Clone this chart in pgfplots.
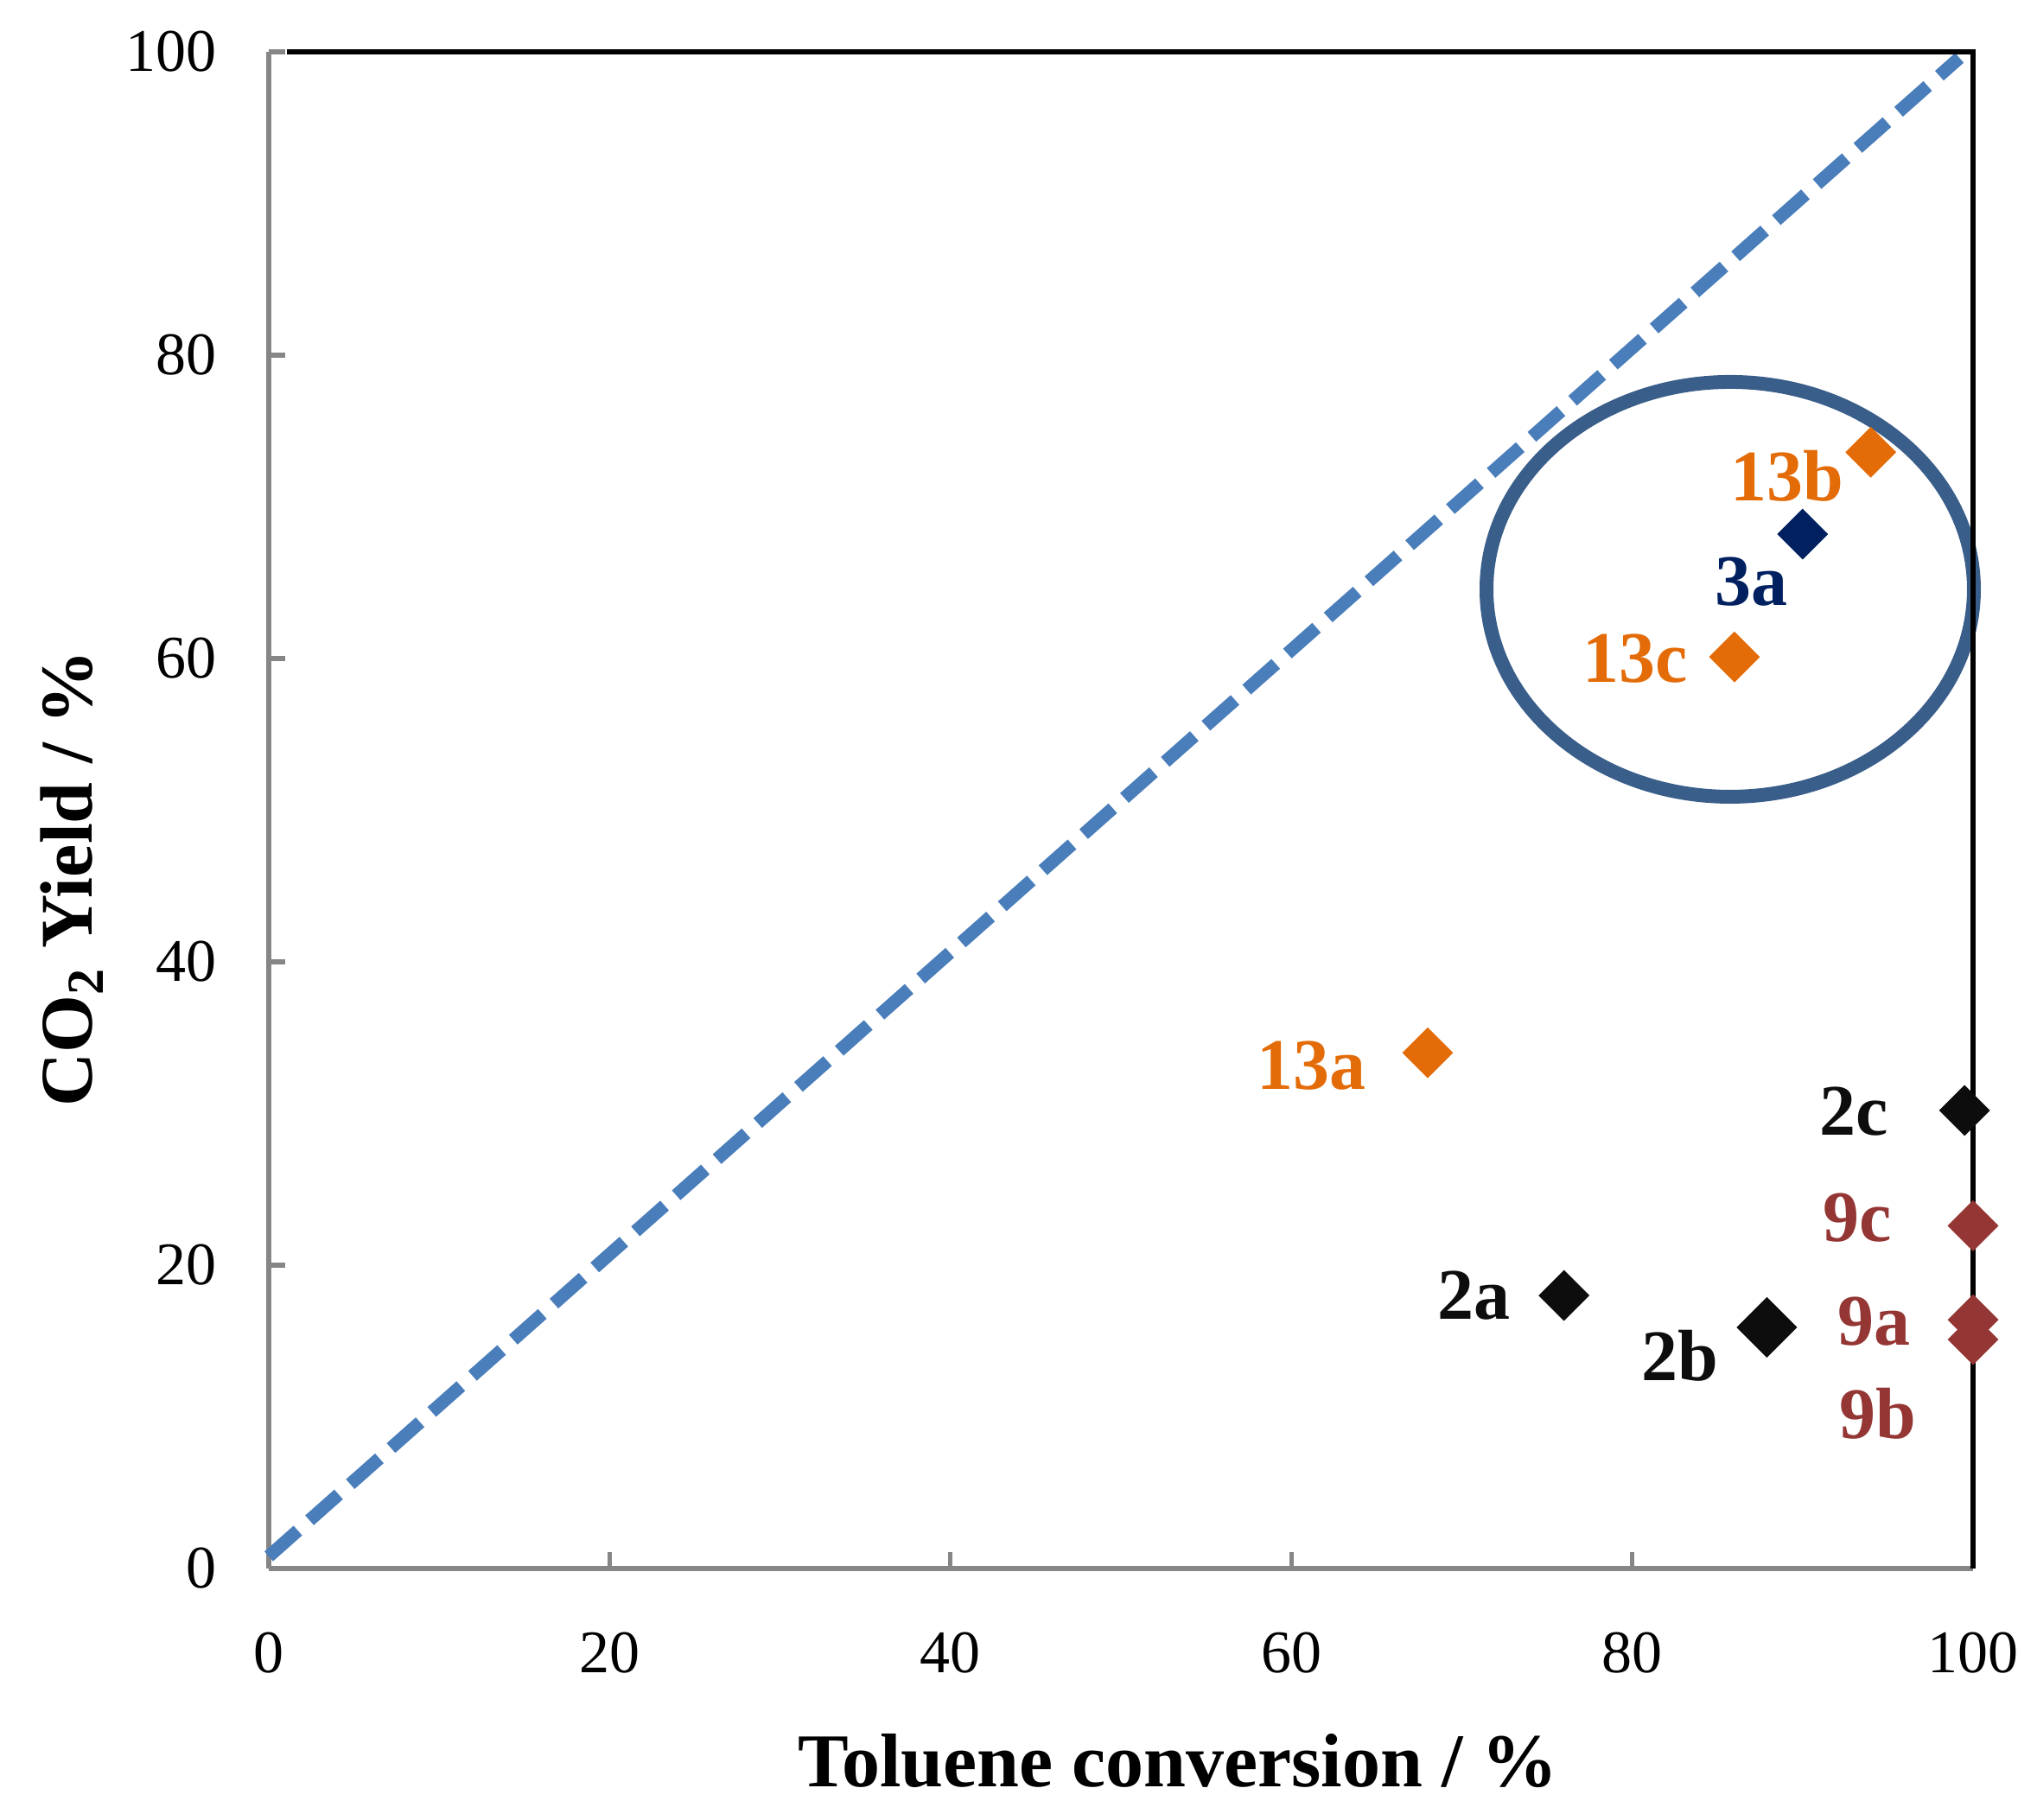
\documentclass[border=0pt]{standalone}
\usepackage{fontspec}
\setmainfont{Liberation Serif}
\usepackage{pgfplots}
\pgfplotsset{compat=1.18}
\definecolor{orng}{HTML}{E36C09}
\definecolor{navy}{HTML}{002060}
\definecolor{dred}{HTML}{943634}
\definecolor{blk}{HTML}{0D0D0D}
\definecolor{ell}{HTML}{3A5E8A}
\definecolor{dashblue}{HTML}{4A7EBB}
\definecolor{axgray}{HTML}{868686}
\begin{document}
\begin{tikzpicture}
\useasboundingbox (-77.75pt,-72.75pt) rectangle (511.5pt,453.75pt);
\begin{axis}[
  at={(0pt,0pt)}, anchor=south west,
  scale only axis, width=493pt, height=438.75pt,
  xmin=0, xmax=100, ymin=0, ymax=100,
  xtick={0,20,...,100}, ytick={0,20,...,100},
  axis x line*=bottom, axis y line*=left,
  axis line style={axgray, line width=1.3pt, -},
  tick align=inside,
  major tick length=4.75pt,
  tick style={axgray, line width=1.3pt},
  clip=false,
  /pgf/number format/assume math mode=true,
  ticklabel style={font=\fontsize{17.5}{21}\selectfont, text=black},
  xticklabel style={yshift=-15pt},
  yticklabel style={xshift=-11.7pt},
  xlabel={Toluene conversion / \%},
  ylabel={CO\textsubscript{2} Yield / \%},
  xlabel style={font=\bfseries\fontsize{22}{25}\selectfont, at={(axis description cs:0.5335,0)}, anchor=center, yshift=-55.75pt},
  ylabel style={font=\bfseries\fontsize{21.5}{25}\selectfont, at={([xshift=-57pt]axis description cs:0,0.455)}, anchor=center},
]
% 1:1 reference line
\addplot[dashblue, line width=3.75pt, dash pattern=on 11.25pt off 4.5pt, line cap=butt] coordinates {(0,0.8) (99.2,99.6)};
% highlight ellipse
\draw[ell, line width=4pt] (axis cs:85.75,64.56) ellipse [x radius=70.5pt, y radius=60pt];
% orange: 13a, 13b, 13c
\addplot[only marks, mark=square*, mark size=5pt, mark options={rotate=45, fill=orng, draw=orng, line width=0.4pt}] coordinates {(68,34) (94,73.6) (86,60.1)};
% navy: 3a
\addplot[only marks, mark=square*, mark size=5pt, mark options={rotate=45, fill=navy, draw=navy, line width=0.4pt}] coordinates {(90,68.2)};
% black: 2a, 2c
\addplot[only marks, mark=square*, mark size=5pt, mark options={rotate=45, fill=blk, draw=blk, line width=0.4pt}] coordinates {(76,18) (99.5,30.2)};
% black: 2b
\addplot[only marks, mark=square*, mark size=6pt, mark options={rotate=45, fill=blk, draw=blk, line width=0.4pt}] coordinates {(87.9,15.9)};
% red: 9c, 9a, 9b
\addplot[only marks, mark=square*, mark size=5pt, mark options={rotate=45, fill=dred, draw=dred, line width=0.4pt}] coordinates {(100,22.6) (100,16.4) (100,15.1)};
% top and right frame
\draw[black, line width=1.5pt, line join=miter] ([xshift=5.25pt]rel axis cs:0,1) -- (rel axis cs:1,1) -- (rel axis cs:1,0);
% labels
\tikzset{lab/.style={font=\bfseries\fontsize{21}{25}\selectfont, anchor=center, inner sep=0pt}}
\node[lab, text=orng] at (axis cs:89.1,72.06) {13b};
\node[lab, text=navy] at (axis cs:87.0,65.04) {3a};
\node[lab, text=orng] at (axis cs:80.2,59.98) {13c};
\node[lab, text=orng] at (axis cs:61.2,33.16) {13a};
\node[lab, text=blk] at (axis cs:93.0,30.16) {2c};
\node[lab, text=dred] at (axis cs:93.2,23.1) {9c};
\node[lab, text=blk] at (axis cs:70.7,18.0) {2a};
\node[lab, text=blk] at (axis cs:82.8,14.05) {2b};
\node[lab, text=dred] at (axis cs:94.2,16.3) {9a};
\node[lab, text=dred] at (axis cs:94.4,10.2) {9b};
\end{axis}
\end{tikzpicture}
\end{document}
